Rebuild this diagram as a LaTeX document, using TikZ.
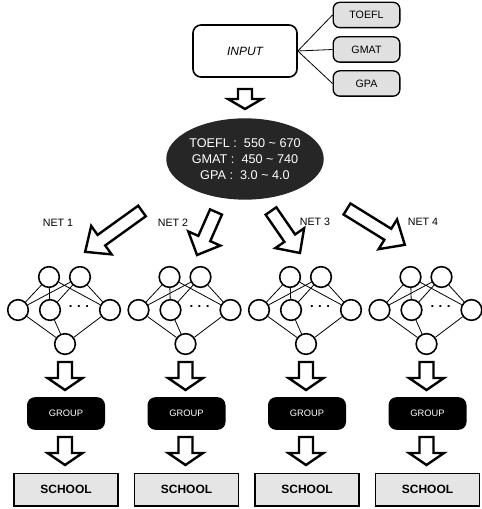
\documentclass[tikz,border=0pt]{standalone}
\usepackage{fontspec}
\setmainfont{Liberation Sans}
\usetikzlibrary{shapes.geometric}

\begin{document}
\begin{tikzpicture}[
    x=0.75pt, y=-0.75pt,
    inputbox/.style={draw, line width=1.2pt, rounded corners=6pt, minimum width=78pt, minimum height=39pt, inner sep=0pt, font=\fontsize{9}{10}\selectfont\itshape},
    scorebox/.style={draw, line width=1pt, fill=black!12, rounded corners=5pt, minimum width=50pt, minimum height=19pt, inner sep=0pt, font=\fontsize{8}{9}\selectfont},
    ranges/.style={ellipse, fill=black!85, text=white, minimum width=117pt, minimum height=61pt, inner sep=0pt, align=center, font=\fontsize{9.5}{12}\selectfont},
    neuron/.style={circle, draw, line width=1.2pt, minimum size=15.5pt, inner sep=0pt},
    link/.style={line width=0.6pt},
    netlabel/.style={font=\fontsize{8}{9}\selectfont},
    groupbox/.style={fill=black, text=white, rounded corners=6pt, minimum width=58.5pt, minimum height=24.5pt, inner sep=0pt, font=\fontsize{7}{8}\selectfont},
    schoolbox/.style={draw, line width=1pt, fill=black!10, minimum width=78pt, minimum height=24.5pt, inner sep=0pt, font=\fontsize{9}{10}\selectfont\bfseries},
    blockline/.style={line width=1.8pt, line join=miter, fill=white},
    pics/fatarrow/.style args={#1/#2/#3/#4}{code={
        \draw[blockline] (0,-#2) -- ({#1-#4},-#2) -- ({#1-#4},-#3) -- (#1,0)
            -- ({#1-#4},#3) -- ({#1-#4},#2) -- (0,#2) -- cycle;
    }}
]
\useasboundingbox (0,0) rectangle (481,509);

% input and the three scores
\node[inputbox] (input) at (245,51) {INPUT};
\node[scorebox] (toefl) at (366.5,15) {TOEFL};
\node[scorebox] (gmat) at (366.5,49.5) {GMAT};
\node[scorebox] (gpa) at (366.5,83.5) {GPA};
\draw[link] (input.east) -- (toefl.west);
\draw[link] (input.east) -- (gmat.west);
\draw[link] (input.east) -- (gpa.west);

\pic[rotate=-90] at (245,89) {fatarrow=20/7/17/10};

\node[ranges] (ranges) at (245,159) {TOEFL :\ \ 550 \textasciitilde\ 670\\GMAT :\ \ 450 \textasciitilde\ 740\\GPA :\ \ 3.0 \textasciitilde\ 4.0};

% split into the four nets
\pic[rotate=-144.3] at (142,211) {fatarrow=70/6.5/17.5/20};
\pic[rotate=-113.8] at (216,212) {fatarrow=47/6.5/17.5/18};
\pic[rotate=-55.4] at (271,211) {fatarrow=51/6.5/17.5/18};
\pic[rotate=-31.8] at (347,209) {fatarrow=68/6.5/17.5/20};
\node[netlabel] (net1) at (58,223) {NET 1};
\node[netlabel] (net2) at (173,223) {NET 2};
\node[netlabel] (net3) at (315,222) {NET 3};
\node[netlabel] (net4) at (423,222) {NET 4};

\foreach \i in {1,...,4} {
    \pgfmathsetmacro{\xo}{18+120.5*(\i-1)}
    \node[neuron] (n\i-ta) at (\xo+31,277) {};
    \node[neuron] (n\i-tb) at (\xo+62,277) {};
    \node[neuron] (n\i-ml) at (\xo,310) {};
    \node[neuron] (n\i-mc) at (\xo+32,310) {};
    \node[neuron] (n\i-mr) at (\xo+92,310) {};
    \node[font=\fontsize{10}{10}\selectfont\bfseries] (n\i-dots) at (\xo+61,307) {.\,\,.\,\,.};
    \node[neuron] (n\i-o) at (\xo+47,344) {};
    \foreach \t in {ta,tb} {
        \foreach \m in {ml,mc,mr} {
            \draw[link] (n\i-\t) -- (n\i-\m);
        }
    }
    \foreach \m in {ml,mc,mr} {
        \draw[link] (n\i-\m) -- (n\i-o);
    }
    \pic[rotate=-90] at (\xo+47,362) {fatarrow=28/7/17.5/12};
    \node[groupbox] (g\i) at (\xo+48,413.5) {GROUP};
    \pic[rotate=-90] at (\xo+47,437) {fatarrow=28/7/17.5/12};
    \node[schoolbox] (s\i) at (\xo+48,489.5) {SCHOOL};
}
\end{tikzpicture}
\end{document}
